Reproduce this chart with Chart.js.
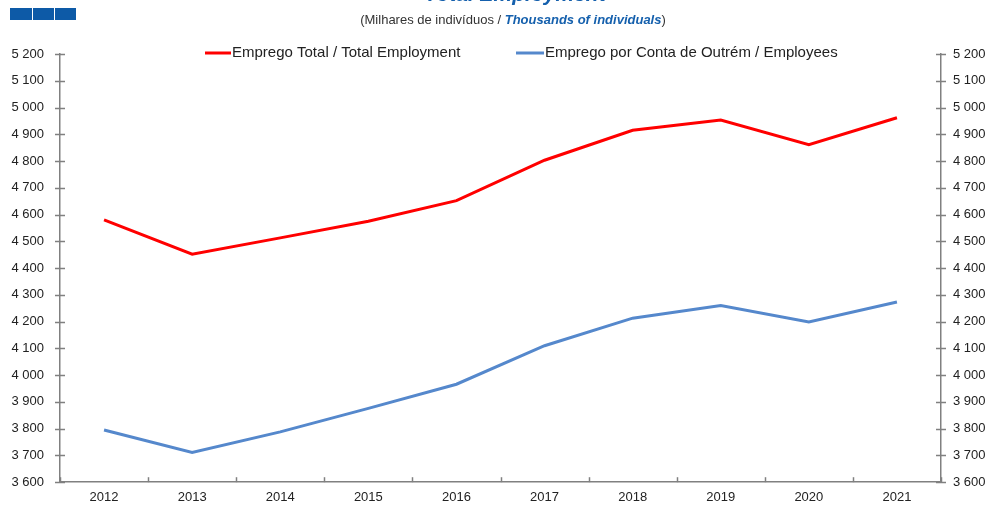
<!DOCTYPE html>
<html>
<head>
<meta charset="utf-8">
<script src="https://cdn.jsdelivr.net/npm/chart.js@4"></script>
<style>
html,body{margin:0;padding:0;background:#fff;}
#wrap{position:relative;width:990px;height:506px;}
</style>
</head>
<body>
<div id="wrap"><canvas id="c" width="990" height="506"></canvas></div>
<script>
const years = ['2012','2013','2014','2015','2016','2017','2018','2019','2020','2021'];
const totalEmployment = [4580, 4452, 4513, 4575, 4652, 4803, 4915, 4953, 4861, 4962];
const employees = [3795, 3711, 3788, 3876, 3966, 4110, 4213, 4260, 4199, 4273];
const yMin = 3600, yMax = 5200, yStep = 100;
const titleText = 'Total Employment';
const subtitlePt = '(Milhares de indivíduos / ';
const subtitleEn = 'Thousands of individuals';
const seriesLabels = ['Emprego Total / Total Employment', 'Emprego por Conta de Outrém / Employees'];

const FONT = 'Liberation Sans, Arial, sans-serif';
const AXIS = '#808080';

function fmt(v){ return String(v).replace(/\B(?=(\d{3})+(?!\d))/g, ' '); }

const decor = {
  id: 'decor',
  afterDraw(chart){
    const ctx = chart.ctx, ca = chart.chartArea;
    ctx.save();
    // blue squares
    ctx.fillStyle = '#0d5aa7';
    ctx.fillRect(10, 8, 22, 12);
    ctx.fillRect(33, 8, 21, 12);
    ctx.fillRect(55, 8, 21, 12);
    // cut title
    ctx.fillStyle = '#1560ad';
    ctx.font = 'italic bold 21px ' + FONT;
    ctx.textAlign = 'center';
    ctx.textBaseline = 'alphabetic';
    ctx.fillText(titleText, 515, 1);
    // subtitle
    ctx.font = '13px ' + FONT;
    const w1 = ctx.measureText(subtitlePt).width;
    ctx.font = 'italic bold 13px ' + FONT;
    const w2 = ctx.measureText(subtitleEn).width;
    ctx.font = '13px ' + FONT;
    const w3 = ctx.measureText(')').width;
    let x = 513 - (w1 + w2 + w3) / 2;
    ctx.textAlign = 'left';
    ctx.textBaseline = 'middle';
    ctx.fillStyle = '#333';
    ctx.fillText(subtitlePt, x, 20);
    ctx.font = 'italic bold 13px ' + FONT;
    ctx.fillStyle = '#1560ad';
    ctx.fillText(subtitleEn, x + w1, 20);
    ctx.font = '13px ' + FONT;
    ctx.fillStyle = '#333';
    ctx.fillText(')', x + w1 + w2, 20);

    // inner ticks
    ctx.strokeStyle = AXIS;
    ctx.lineWidth = 1.5;
    const ys = chart.scales.y;
    for (let v = yMin; v <= yMax; v += yStep) {
      const py = Math.round(ys.getPixelForValue(v)) + 0.5;
      ctx.beginPath();
      ctx.moveTo(ca.left - 5, py); ctx.lineTo(ca.left + 5, py);
      ctx.moveTo(ca.right - 5, py); ctx.lineTo(ca.right + 5, py);
      ctx.stroke();
    }
    const n = years.length;
    for (let i = 0; i <= n; i++) {
      const px = Math.round(ca.left + i * (ca.right - ca.left) / n) + 0.5;
      ctx.beginPath();
      ctx.moveTo(px, ca.bottom); ctx.lineTo(px, ca.bottom - 5);
      ctx.stroke();
    }

    // legend
    const ds = chart.data.datasets;
    const pos = [[205, 232], [516, 545]];
    ctx.font = '15px ' + FONT;
    ctx.textBaseline = 'middle';
    ctx.textAlign = 'left';
    ds.forEach((d, i) => {
      ctx.strokeStyle = d.borderColor;
      ctx.lineWidth = 3;
      ctx.beginPath();
      ctx.moveTo(pos[i][0], 53); ctx.lineTo(pos[i][1] - 1, 53);
      ctx.stroke();
      ctx.fillStyle = '#222';
      ctx.fillText(d.label, pos[i][1], 53);
    });
    ctx.restore();
  }
};

new Chart(document.getElementById('c'), {
  type: 'line',
  data: {
    labels: years,
    datasets: [
      { label: seriesLabels[0], data: totalEmployment, borderColor: '#ff0000', borderWidth: 3, pointRadius: 0, tension: 0, yAxisID: 'y' },
      { label: seriesLabels[1], data: employees, borderColor: '#5588cc', borderWidth: 3, pointRadius: 0, tension: 0, yAxisID: 'y' }
    ]
  },
  options: {
    responsive: false,
    animation: false,
    layout: { padding: { top: 54, left: 0, right: 0, bottom: 0 } },
    plugins: { legend: { display: false }, tooltip: { enabled: false }, title: { display: false } },
    scales: {
      x: {
        offset: true,
        grid: { display: false, offset: true, drawTicks: false },
        border: { display: true, color: AXIS, width: 1.5 },
        ticks: { color: '#222', font: { family: FONT, size: 13 }, padding: 7, maxRotation: 0 },
        afterFit(s){ s.height = 23; }
      },
      y: {
        position: 'left',
        min: yMin, max: yMax,
        grid: { display: false, drawTicks: false },
        border: { display: true, color: AXIS, width: 1.5 },
        ticks: { stepSize: yStep, color: '#222', font: { family: FONT, size: 13 }, padding: 16, callback: v => fmt(v) },
        afterFit(s){ s.width = 60; }
      },
      y2: {
        position: 'right',
        min: yMin, max: yMax,
        grid: { display: false, drawTicks: false },
        border: { display: true, color: AXIS, width: 1.5 },
        ticks: { stepSize: yStep, color: '#222', font: { family: FONT, size: 13 }, padding: 12, callback: v => fmt(v) },
        afterFit(s){ s.width = 49; }
      }
    }
  },
  plugins: [decor]
});
</script>
</body>
</html>
